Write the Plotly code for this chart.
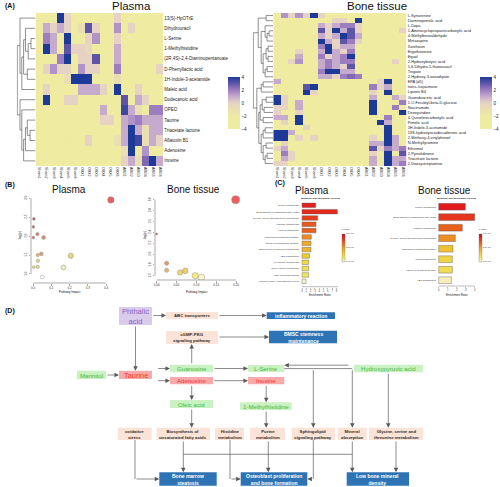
import plotly.graph_objects as go

W, H = 500, 487
FONT = "Liberation Sans, Arial, Helvetica, sans-serif"

# ------------------------------------------------------------------ data
samples = ["Sham1", "Sham2", "Sham3", "Sham4", "Sham5", "Sham6",
           "OVX1", "OVX2", "OVX3", "OVX4", "OVX5", "OVX6",
           "ARG1", "ARG2", "ARG3", "ARG4", "ARG5", "ARG6"]

plasma_metabolites = ["13(S)-HpOTrE", "Dihydrouracil", "L-Serine", "1-Methylhistidine",
                      "(2R,4S)-2,4-Diaminopentanoate", "D-Phenyllactic acid",
                      "1H-Indole-3-acetamide", "Maleic acid", "Dodecanoic acid", "OPEO",
                      "Taurine", "Triacetate lactone", "Aflatoxin B1", "Adenosine", "Inosine"]

plasma_z = [
    [-3, -3, -3, 4, 0, -3, -3, -3, -3, -3, -3, 0, -3, -3, -3, -3, -3, -3],
    [-3, 1, 0, 1, 0, -3, -1, 3, 0, -3, -3, 1.5, -3, 0, -3, -3, -3, -3],
    [-3, 2, 1, -3, 4, -3, -3, 0, 1.5, -3, -3, 0, -3, -3, -3, -3, -3, -3],
    [-3, 4, 1, -3, 3, 0, 0, -0.5, -3, -3, -3, 1, -3, -3, -3, -3, -3, -3],
    [-3, -3, -3, 2, 4, -3, 0, 0, 3, -3, -3, 1, -3, -3, -3, -3, -3, -3],
    [-3, 0, 1.5, 0, 0, -3, 1.5, 0, 0, -3, -3, 2, -3, -3, -3, -3, -3, 0],
    [-3, -3, -3, -3, -1, 4, 4, 4, -3, -3, -3, -1, -3, -3, -3, -3, -3, -3],
    [-3, 0, -3, -3, -3, -3, 1, 1, 1, 0, -3, 4, -3, -3, 0, -3, -3, -3],
    [-3, 4, -3, -3, 0, 0, -3, -3, -3, -3, -3, -3, 3, -3, 1, 0, -3, -3],
    [-3, -3, -3, -3, -3, -3, -3, -3, -3, 1, -3, -3, 3.5, 1, -1, -3, 2, 2],
    [-3, -3, -3, -3, -3, -3, -3, -3, -3, 0, 0, -3, 1, 1.5, 2, 1, 1, 1],
    [-3, -3, -3, -3, -3, -3, -3, -3, -3, -3, -3, -3, 1, 4, 1, -1, 1, 1],
    [-3, -3, -3, -3, -2, -3, -3, 0, -3, -3, -3, -1, 1, 4, 3.5, -1, 1, 0],
    [-3, -3, -3, -3, -3, -3, -3, -3, -3, -3, -3, -3, -1, 4, -2, 1.5, -3, -3],
    [-3, -3, -3, -3, -3, -3, -3, -3, -3, -3, -3, -3, 0, 1, -1, 2.5, 4, 1],
]

bone_metabolites = ["L-Kynurenine", "Diaminopimelic acid", "L-Dopa",
                    "1-Aminocyclopropanecarboxylic acid", "4-Methylbenzaldehyde", "Mirtazapine",
                    "Xanthoxin", "Ergothioneine", "Equol", "2-Hydroxybutyric acid",
                    "5,6-Dihydro-5-fluorouracil", "Tropate", "2-Hydroxy-3-oxoadipate", "EPA (d5)",
                    "trans-Isojasmone", "Lipoxin B4", "Guanidoacetic acid",
                    "1-O-Feruloyl-beta-D-glucose", "Niacinamide", "Deoxyuridine",
                    "4-Quinolinecarboxylic acid", "Pimelic acid", "1H-Indole-3-acetamide",
                    "13S-hydroxyoctadecadienoic acid", "2-Methoxy-4-vinylphenol",
                    "N-Methyltyramine", "Ethinmol", "2-Pyrrolidinone", "Triacetate lactone",
                    "2-Deoxystreptamine"]

bone_z = [
    [-3, 1.5, 0, 1.5, 0, 4, 0, -3, -3, -3, -3, -3, -3, -3, -3, -3, -3, -3],
    [-3, -3, -3, -3, -3, -3, -3, -3, 0, 0, -3, 4, -3, -3, -3, -3, -3, -3],
    [-3, -3, -3, -3, -3, -3, 1, 0, 1, 2, 2, 0, -3, -3, -3, -3, -3, -3],
    [-3, -3, -3, -3, -3, -3, 3, 0, 4, 1, 3, 0, -3, -3, -3, -3, -3, 0],
    [-3, -3, -3, -3, -3, -3, 1, 0, 1, 4, 3, 1, -3, -3, -3, -3, -3, -3],
    [-3, -3, -3, -3, -3, -3, 4, 1, 0, 3, 2, 0, -3, -3, -3, -3, -3, -3],
    [-3, -3, -3, -3, -3, -3, 2, 4, 0, 1, 1, -3, -3, -3, -3, -3, -3, -3],
    [-3, -3, -3, 0, -3, -3, 1, 4, 1, 0, 2, -3, -3, -3, -3, -3, -3, -3],
    [-3, -3, -3, 1, -3, -3, 2, 0, 1, 2, 4, -3, -3, -3, -3, -3, -3, -3],
    [-3, -3, 0, 1.5, -3, -3, 1, 2, 1, 2, 2, -3, -3, -3, -3, -3, 0, -3],
    [-3, -3, -3, -3, -3, -3, 1, 2, 1, 0, 3, -3, -3, -3, -3, -3, -3, -3],
    [-3, -3, -3, -3, -3, -3, 2, 4, 4, 1, 1, -3, -3, -3, -3, -3, -3, -3],
    [-3, -3, -3, -3, -3, -3, 1, 1, 0, 2, 2.5, 2, -3, -3, -3, -3, -3, -3],
    [1, -3, -3, -3, -3, -3, -3, -3, -3, -3, -3, -3, -3, -3, 0, 4, -3, -3],
    [-3, -3, -3, -3, 3, 4, -3, -3, -3, -3, -3, -3, -3, 2, 0, 1, -3, -3],
    [-3, -3, -3, -3, 4, 0, -3, -3, -3, -3, -3, -3, -3, 0, -3, 4, -3, -3],
    [4, 0, -3, -3, -3, -3, -3, -3, -3, -3, -3, -3, -3, 1, -3, -3, 1, 0],
    [4, 0, -3, 1, -3, -3, -3, -3, -3, -3, -3, -3, -3, 4, -3, -3, -3, 2],
    [0, 0, -3, 1, -3, -3, -3, -3, -3, -3, -3, -3, -3, 4, -3, -3, 2, -3],
    [0, -3, -3, 0, -3, -3, -3, -3, -3, -3, -3, -3, -3, 4, -3, -3, -3, 4],
    [1, 1, -3, 4, -3, -3, -3, -3, -3, -3, -3, -3, -3, -3, -3, 2, -3, -3],
    [-3, 0, -3, 4, -3, -3, -3, -3, -3, -3, -3, -3, -3, -3, 4, 1, -3, -3],
    [-3, -3, -3, -3, 0, -3, -3, -3, -3, -3, -3, -3, -3, -3, -3, 4, -3, -3],
    [4, 4, 1, -3, -3, -3, -3, -3, -3, -3, -3, -3, -3, -3, -3, 4, -3, -3],
    [4, 4, -3, 0, -3, 0, -3, -3, -3, -3, -3, -3, -3, 0, -3, 4, 1, -3],
    [-3, 0, -3, -3, -3, -3, -3, -3, -3, -3, -3, -3, -3, 1, 1, 4, 1, -3],
    [0, 1, -3, -3, -3, -3, -3, -3, -3, -3, -3, -3, -3, 3, 0, 2, 1, 2],
    [-3, 2, 0, -3, -3, -3, -3, -3, -3, -3, -3, -3, -3, 0, -3, 4, -3, 3],
    [-3, 1, 0, -3, -3, -3, -3, -3, -3, -3, -3, -3, -3, 1, -3, 4, 1, 1],
    [0, 0, -3, -3, -3, -3, -3, -3, -3, -3, -3, -3, -3, 1, -3, 4, 1, 2],
]

# hierarchical clustering merges (child a, child b, height); ids >= n are earlier merges
plasma_merges = [(2, 3, .25), (15, 4, .4), (1, 16, .55), (5, 6, .45), (17, 18, .65),
                 (19, 7, .75), (0, 20, .85), (11, 12, .3), (10, 22, .45), (23, 13, .55),
                 (24, 14, .65), (9, 25, .75), (8, 26, .85), (21, 27, 1.0)]
bone_merges = [(0, 1, .35), (3, 4, .2), (31, 5, .3), (2, 32, .4), (6, 7, .25), (8, 9, .25),
               (34, 35, .35), (10, 11, .3), (37, 12, .4), (36, 38, .5), (33, 39, .6),
               (30, 40, .75), (13, 14, .5), (42, 15, .6), (16, 17, .35), (18, 19, .45),
               (44, 45, .55), (20, 21, .5), (46, 47, .65), (22, 23, .4), (49, 24, .5),
               (25, 26, .35), (27, 28, .3), (52, 29, .4), (51, 53, .5), (50, 54, .6),
               (48, 55, .72), (43, 56, .82), (41, 57, 1.0)]

# pathway analysis (B)
plasma_impact = [0.427, 0.005, 0.002, 0.024, 0.002, 0.058, 0.046, 0.026, 0.207, 0.027,
                 0.026, 0.004, 0.166, 0.051]
plasma_logp = [2.95, 2.45, 2.24, 2.05, 1.96, 1.96, 1.53, 1.50, 1.48, 1.35, 1.19, 1.18, 1.17, 0.92]
bone_impact = [0.199, 0.0, 0.025, 0.025, 0.059, 0.072, 0.097, 0.113]
bone_logp = [3.0, 2.37, 1.83, 1.70, 1.66, 1.69, 1.60, 1.57]

# enrichment overview (C)
plasma_sets = ["Purine metabolism", "Biosynthesis of unsaturated fatty acids",
               "Glycine, serine and threonine metabolism", "Histidine metabolism",
               "Mineral absorption", "Sphingolipid signaling pathway",
               "cGMP-PKG signaling pathway", "Taurine and hypotaurine metabolism",
               "ABC transporters", "Pyrimidine metabolism", "beta-Alanine metabolism",
               "Fatty acid biosynthesis", "Aminoacyl-tRNA biosynthesis in cells"]
plasma_ratio = [3.18, 8.22, 3.64, 3.26, 3.26, 2.17, 2.09, 2.09, 1.78, 1.55, 1.55, 1.55, 0.93]
plasma_pval = [0.006, 0.007, 0.010, 0.014, 0.015, 0.022, 0.027, 0.029, 0.034, 0.038, 0.040,
               0.043, 0.049]
bone_sets = ["Purine metabolism", "Biosynthesis of unsaturated fatty acids",
             "Histidine metabolism", "Glycine, serine and threonine metabolism",
             "Sphingolipid signaling pathway", "Mineral absorption",
             "cGMP-PKG signaling path.", "ABC transporters"]
bone_ratio = [2.96, 4.0, 2.63, 1.85, 1.59, 1.52, 1.52, 1.41]
bone_pval = [0.005, 0.009, 0.015, 0.022, 0.032, 0.037, 0.040, 0.048]

# ------------------------------------------------------------------ styles
plasma_bubble_colors = ["#E51A1A", "#9E1B1B", "#A3261E", "#C0442A", "#A82A20", "#C8653E",
                        "#C8783A", "#D39A45", "#D9C447", "#C9C458", "#D6D06A", "#D8D070",
                        "#E8E2A8", "#FFFFFF"]
bone_bubble_colors = ["#E51A1A", "#8E1A1A", "#D8702A", "#E59A30", "#EDC53A", "#E9B832",
                      "#F1E445", "#F8F2C4"]

HEAT_CS = [[0.0, '#EFEDA2'], [0.25, '#EEEAA2'], [0.5, '#E6D3C4'], [0.625, '#C6ABCD'],
           [0.75, '#9C7DC0'], [0.875, '#5F55A8'], [1.0, '#1E3A99']]
BAR_CS = [[0.0, '#F7F4DC'], [0.15, '#F1E45C'], [0.3, '#EFD03A'], [0.5, '#EDA02A'],
          [0.7, '#E8601E'], [0.9, '#E31A1C'], [1.0, '#B2182B']]


def px(x):
    return x / W


def py(y):
    return 1 - y / H


fig = go.Figure()


def heat_cbar(x_left):
    return dict(x=px(x_left), xanchor='left', xpad=0, y=py(103), yanchor='middle', ypad=0,
                len=52, lenmode='pixels', thickness=11.5, outlinewidth=0,
                tickvals=[-4, -2, 0, 2, 4], ticks='', ticklen=0,
                tickfont=dict(size=4.6, family=FONT, color='#222'))


fig.add_trace(go.Heatmap(z=plasma_z, x=list(range(len(samples))),
                         y=list(range(len(plasma_metabolites))), colorscale=HEAT_CS,
                         zmin=-4, zmax=4, xaxis='x', yaxis='y', colorbar=heat_cbar(227.7),
                         hoverinfo='skip'))
fig.add_trace(go.Heatmap(z=bone_z, x=list(range(len(samples))),
                         y=list(range(len(bone_metabolites))), colorscale=HEAT_CS,
                         zmin=-4, zmax=4, xaxis='x2', yaxis='y2', colorbar=heat_cbar(480),
                         hoverinfo='skip'))


def dendro(n, merges):
    pos = {i: float(i) for i in range(n)}
    hgt = {i: 0.0 for i in range(n)}
    xs, ys = [], []
    for k, (a, b, h) in enumerate(merges):
        xs += [hgt[a], h, h, hgt[b], None]
        ys += [pos[a], pos[a], pos[b], pos[b], None]
        pos[n + k] = (pos[a] + pos[b]) / 2
        hgt[n + k] = h
    return xs, ys


for (n, merges, xa, ya) in [(len(plasma_metabolites), plasma_merges, 'x3', 'y3'),
                            (len(bone_metabolites), bone_merges, 'x4', 'y4')]:
    dx, dy = dendro(n, merges)
    fig.add_trace(go.Scatter(x=dx, y=dy, mode='lines', line=dict(color='#444', width=0.6),
                             xaxis=xa, yaxis=ya, hoverinfo='skip', showlegend=False))

# bubbles
fig.add_trace(go.Scatter(x=plasma_impact, y=plasma_logp, mode='markers', xaxis='x5', yaxis='y5',
                         marker=dict(size=[2.3 + 6.5 * v ** 0.5 for v in plasma_impact],
                                     color=plasma_bubble_colors,
                                     line=dict(color='#6a6a5a', width=0.5)),
                         hoverinfo='skip', showlegend=False))
fig.add_trace(go.Scatter(x=bone_impact, y=bone_logp, mode='markers', xaxis='x6', yaxis='y6',
                         marker=dict(size=[2.0 + 13.5 * v ** 0.5 for v in bone_impact],
                                     color=bone_bubble_colors,
                                     line=dict(color='#6a6a5a', width=0.5)),
                         hoverinfo='skip', showlegend=False))


def bar_cbar(x_left):
    return dict(x=px(x_left), xanchor='left', xpad=0, y=py(243.5), yanchor='middle', ypad=0,
                len=36, lenmode='pixels', thickness=2.6, outlinewidth=0.3, outlinecolor='#666',
                tickvals=[-0.05, -0.025, 0], ticktext=['5.0e-02', '2.5e-02', '1.0e-03'],
                ticks='', tickfont=dict(size=2.2, family=FONT, color='#333'),
                title=dict(text='P value', side='top', font=dict(size=2.4, family=FONT)))


fig.add_trace(go.Bar(x=plasma_ratio, y=list(range(len(plasma_sets))), orientation='h', width=0.71,
                     marker=dict(color=[-p for p in plasma_pval], colorscale=BAR_CS, cmin=-0.05,
                                 cmax=0, line=dict(color='#555', width=0.4), showscale=True,
                                 colorbar=bar_cbar(342)),
                     xaxis='x7', yaxis='y7', hoverinfo='skip', showlegend=False))
fig.add_trace(go.Bar(x=bone_ratio, y=list(range(len(bone_sets))), orientation='h', width=0.64,
                     marker=dict(color=[-p for p in bone_pval], colorscale=BAR_CS, cmin=-0.05,
                                 cmax=0, line=dict(color='#555', width=0.4), showscale=True,
                                 colorbar=bar_cbar(479)),
                     xaxis='x8', yaxis='y8', hoverinfo='skip', showlegend=False))

# pixel overlay axis for text / flowchart
fig.add_trace(go.Scatter(x=[0], y=[0], mode='markers', marker=dict(opacity=0), xaxis='x9',
                         yaxis='y9', hoverinfo='skip', showlegend=False))


def ax(domain, rng, **kw):
    d = dict(domain=domain, range=rng, showgrid=False, zeroline=False, fixedrange=True,
             showline=False)
    d.update(kw)
    return d


tick3 = dict(size=3.0, family=FONT, color='#333')

layout_axes = dict(
    xaxis=ax([px(36), px(163.3)], [-0.5, 17.5], anchor='y', tickvals=list(range(18)),
             ticktext=samples, tickangle=90, ticks='',
             tickfont=dict(size=3.6, family=FONT, color='#222')),
    yaxis=ax([py(166), py(13)], [14.5, -0.5], anchor='x', side='right',
             tickvals=list(range(15)), ticktext=plasma_metabolites, ticks='',
             tickfont=dict(size=4.5, family=FONT, color='#222')),
    xaxis2=ax([px(273.3), px(406.7)], [-0.5, 17.5], anchor='y2', tickvals=list(range(18)),
              ticktext=samples, tickangle=90, ticks='',
              tickfont=dict(size=3.6, family=FONT, color='#222')),
    yaxis2=ax([py(166), py(13)], [29.5, -0.5], anchor='x2', side='right',
              tickvals=list(range(30)), ticktext=bone_metabolites, ticks='',
              tickfont=dict(size=3.9, family=FONT, color='#222')),
    xaxis3=ax([px(16.7), px(35.5)], [1.03, 0], anchor='y3', visible=False),
    yaxis3=ax([py(166), py(13)], [14.5, -0.5], anchor='x3', visible=False),
    xaxis4=ax([px(252.7), px(273)], [1.03, 0], anchor='y4', visible=False),
    yaxis4=ax([py(166), py(13)], [29.5, -0.5], anchor='x4', visible=False),
    xaxis5=ax([px(31), px(114)], [-0.011, 0.4438], anchor='y5', tickvals=[0, .1, .2, .3, .4],
              ticktext=['0.0', '0.1', '0.2', '0.3', '0.4'], ticks='outside', ticklen=1.5,
              tickwidth=0.5, tickcolor='#555', tickfont=tick3),
    yaxis5=ax([py(283), py(195)], [0.763, 3.079], anchor='x5', tickvals=[1, 1.5, 2, 2.5, 3],
              ticktext=['1.0', '1.5', '2.0', '2.5', '3.0'], tickangle=-90, ticks='outside',
              ticklen=1.5, tickwidth=0.5, tickcolor='#555', tickfont=tick3),
    xaxis6=ax([px(155), px(242)], [-0.0043, 0.215], anchor='y6',
              tickvals=[0, .05, .1, .15, .2], ticktext=['0.00', '0.05', '0.10', '0.15', '0.20'],
              ticks='outside', ticklen=1.5, tickwidth=0.5, tickcolor='#555', tickfont=tick3),
    yaxis6=ax([py(280), py(195)], [1.521, 3.087], anchor='x6',
              tickvals=[1.6, 1.8, 2.0, 2.2, 2.4, 2.6, 2.8, 3.0],
              ticktext=['1.6', '1.8', '2.0', '2.2', '2.4', '2.6', '2.8', '3.0'], tickangle=-90,
              ticks='outside', ticklen=1.5, tickwidth=0.5, tickcolor='#555', tickfont=tick3),
    xaxis7=ax([px(300), px(341)], [-0.47, 9.07], anchor='y7', tickvals=list(range(9)),
              ticks='outside', ticklen=1, tickwidth=0.4, tickcolor='#555',
              tickfont=dict(size=2.6, family=FONT, color='#333')),
    yaxis7=ax([py(286.7), py(201)], [12.86, -0.68], anchor='x7',
              tickvals=list(range(len(plasma_sets))), ticktext=plasma_sets, ticks='',
              tickfont=dict(size=2.5, family=FONT, color='#333')),
    xaxis8=ax([px(437), px(478)], [-0.19, 4.37], anchor='y8', tickvals=[0, 1, 2, 3, 4],
              ticks='outside', ticklen=1, tickwidth=0.4, tickcolor='#555',
              tickfont=dict(size=2.6, family=FONT, color='#333')),
    yaxis8=ax([py(286), py(200)], [7.55, -0.64], anchor='x8',
              tickvals=list(range(len(bone_sets))), ticktext=bone_sets, ticks='',
              tickfont=dict(size=2.5, family=FONT, color='#333')),
    xaxis9=ax([0, 1], [0, W], anchor='y9', visible=False),
    yaxis9=ax([0, 1], [H, 0], anchor='x9', visible=False),
)

shapes = []
annotations = []

# axis lines (R style) for B and C
AXC = dict(color='#555', width=0.5)
shapes += [
    dict(type='line', xref='x5', yref='y5 domain', x0=0, x1=0.4, y0=0, y1=0, line=AXC),
    dict(type='line', xref='x5 domain', yref='y5', x0=0, x1=0, y0=1.0, y1=3.0, line=AXC),
    dict(type='line', xref='x6', yref='y6 domain', x0=0, x1=0.2, y0=0, y1=0, line=AXC),
    dict(type='line', xref='x6 domain', yref='y6', x0=0, x1=0, y0=1.6, y1=3.0, line=AXC),
    dict(type='line', xref='x7', yref='y7 domain', x0=0, x1=8.4, y0=0, y1=0,
         line=dict(color='#555', width=0.4)),
    dict(type='line', xref='x8', yref='y8 domain', x0=0, x1=4, y0=0, y1=0,
         line=dict(color='#555', width=0.4)),
]


def txt(x, y, s, size, color='#111', bold=False, angle=0, xanchor='center'):
    if bold:
        s = "<b>" + s + "</b>"
    return dict(x=x, y=y, xref='x9', yref='y9', text=s, showarrow=False, textangle=angle,
                font=dict(size=size, color=color, family=FONT), xanchor=xanchor,
                yanchor='middle')


annotations += [
    txt(3, 5.5, "(A)", 7, bold=True, xanchor='left'),
    txt(3, 185, "(B)", 7, bold=True, xanchor='left'),
    txt(272.5, 182.5, "(C)", 7, bold=True, xanchor='left'),
    txt(3, 311, "(D)", 7, bold=True, xanchor='left'),
    txt(131, 6, "Plasma", 11.5),
    txt(377, 6, "Bone tissue", 11.5),
    txt(69, 189, "Plasma", 10),
    txt(193, 189, "Bone tissue", 10),
    txt(312, 190.5, "Plasma", 10),
    txt(444, 190.5, "Bone tissue", 10),
    txt(320, 197.8, "Metabolite Sets Enrichment Overview", 2.2, bold=True),
    txt(456.7, 197.8, "Metabolite Sets Enrichment Overview", 2.2, bold=True),
    txt(70, 292, "Pathway Impact", 3),
    txt(197, 292, "Pathway Impact", 3),
    txt(20, 236, "-log(p)", 3, angle=-90),
    txt(145, 236, "-log(p)", 3, angle=-90),
    txt(320, 294.5, "Enrichment Ratio", 2.8),
    txt(457, 294.5, "Enrichment Ratio", 2.8),
]

# ------------------------------------------------------------------ flowchart (D)
BOX_STYLE = {
    'purple': dict(fill='#DACDEB', color='#8C5DC4', size=7.6, bold=False),
    'peach': dict(fill='#FBE4D7', color='#2B2B2B', size=4.3, bold=True),
    'blue': dict(fill='#2E74B5', color='#FFFFFF', size=5.0, bold=True),
    'green': dict(fill='#C9F1C1', color='#46BA46', size=6.1, bold=False),
    'red': dict(fill='#F8AAAA', color='#F23434', size=6.1, bold=False),
}
boxes = [
    ("Phthalic<br>acid", 119, 307, 152, 325, 'purple', None),
    ("ABC transporters", 166, 312, 218, 319, 'peach', None),
    ("inflammatory reaction", 266.7, 312.3, 335, 319, 'blue', None),
    ("cGMP-PKG<br>signaling pathway", 166, 331, 218, 344, 'peach', None),
    ("BMSC stemness<br>maintenance", 269, 330.7, 337, 343.3, 'blue', None),
    ("Mannitol", 77, 370.7, 106, 379, 'green', None),
    ("Taurine", 119, 370.7, 152, 379, 'red', 7.4),
    ("Guanosine", 170, 364.7, 213, 372.3, 'green', None),
    ("Adenosine", 170, 377, 213, 384.3, 'red', None),
    ("Oleic acid", 170, 400, 213, 408, 'green', None),
    ("L-Serine", 248, 365, 284.3, 372, 'green', None),
    ("Inosine", 248, 377, 284.3, 384.3, 'red', None),
    ("1-Methylhistidine", 240, 402.3, 291.7, 410, 'green', None),
    ("Hydroxypyruvic acid", 354, 364.7, 423, 372.3, 'green', None),
    ("oxidative<br>stress", 117.7, 427.7, 151.7, 440, 'peach', None),
    ("Biosynthesis of<br>unsaturated fatty acids", 156.7, 427.7, 210, 440, 'peach', None),
    ("Histidine<br>metabolism", 215, 427.7, 244, 440, 'peach', None),
    ("Purine<br>metabolism", 250, 427.7, 285, 440, 'peach', None),
    ("Sphingolipid<br>signaling pathway", 291.7, 427.7, 335, 440, 'peach', None),
    ("Mineral<br>absorption", 337.7, 427.7, 366.7, 440, 'peach', None),
    ("Glycine, serine and<br>threonine metabolism", 369, 427.7, 423.3, 440, 'peach', None),
    ("Bone marrow<br>steatosis", 159.3, 472.3, 216.7, 485.7, 'blue', None),
    ("Osteoblast proliferation<br>and bone formation", 240.7, 472.3, 307.3, 485.7, 'blue', None),
    ("Low bone mineral<br>density", 346.7, 472.3, 409, 485.7, 'blue', None),
]
for label, x0, y0, x1, y1, kind, fsize in boxes:
    st = BOX_STYLE[kind]
    shapes.append(dict(type='rect', xref='x9', yref='y9', x0=x0, y0=y0, x1=x1, y1=y1,
                       fillcolor=st['fill'], line=dict(width=0), layer='above'))
    annotations.append(txt((x0 + x1) / 2, (y0 + y1) / 2 + 0.3, label, fsize or st['size'],
                           color=st['color'], bold=st['bold']))

ARROW_C = '#5A5A5A'
connectors = [
    ([(152, 315.5), (166, 315.5)], True),
    ([(218, 315.5), (266.7, 315.5)], True),
    ([(218, 337), (269, 337)], True),
    ([(135.5, 325), (135.5, 370.7)], True),
    ([(106, 375), (119, 375)], True),
    ([(156.7, 368.5), (170, 368.5)], True),
    ([(156.7, 380.7), (170, 380.7)], True),
    ([(191.7, 364.7), (191.7, 344)], True),
    ([(191.7, 384.3), (191.7, 400)], True),
    ([(191.7, 408), (191.7, 427.7)], True),
    ([(213, 368.5), (248, 368.5)], True),
    ([(213, 380.7), (248, 380.7)], True),
    ([(266.2, 384.3), (266.2, 402.3)], True),
    ([(266.2, 410), (266.2, 427.7)], True),
    ([(350, 365.2), (284.3, 365.2)], True),
    ([(284.3, 368.6), (313.3, 368.6), (313.3, 427.7)], True),
    ([(313.3, 368.6), (352.3, 368.6), (352.3, 427.7)], True),
    ([(388.3, 372.3), (388.3, 427.7)], True),
    ([(135, 440), (135, 479), (159.3, 479)], True),
    ([(183.3, 440), (183.3, 472.3)], True),
    ([(183.3, 454.3), (352.3, 454.3)], False),
    ([(268.3, 440), (268.3, 472.3)], True),
    ([(230, 440), (230, 479), (240.7, 479)], True),
    ([(313.3, 440), (313.3, 479), (307.3, 479)], True),
    ([(352.3, 440), (352.3, 472.3)], True),
    ([(396, 440), (396, 472.3)], True),
]
for pts, head in connectors:
    segs = list(zip(pts[:-1], pts[1:]))
    plain = segs[:-1] if head else segs
    for (a, b) in plain:
        shapes.append(dict(type='line', xref='x9', yref='y9', x0=a[0], y0=a[1], x1=b[0],
                           y1=b[1], line=dict(color=ARROW_C, width=0.7)))
    if head:
        a, b = segs[-1]
        annotations.append(dict(x=b[0], y=b[1], ax=a[0], ay=a[1], xref='x9', yref='y9',
                                axref='x9', ayref='y9', text='', showarrow=True, arrowhead=2,
                                arrowsize=1.3, arrowwidth=0.7, arrowcolor=ARROW_C,
                                standoff=0, startstandoff=0))

fig.update_layout(
    width=W, height=H,
    margin=dict(l=0, r=0, t=0, b=0, autoexpand=False),
    paper_bgcolor='white', plot_bgcolor='rgba(0,0,0,0)',
    font=dict(family=FONT, color='#222'),
    showlegend=False,
    shapes=shapes, annotations=annotations,
    **layout_axes,
)

fig.write_html("out.html",
               config={'displayModeBar': False, 'staticPlot': True},
               post_script="document.body.style.margin='0';document.body.style.padding='0';"
                           "document.documentElement.style.margin='0';"
                           "document.body.style.overflow='hidden';")
